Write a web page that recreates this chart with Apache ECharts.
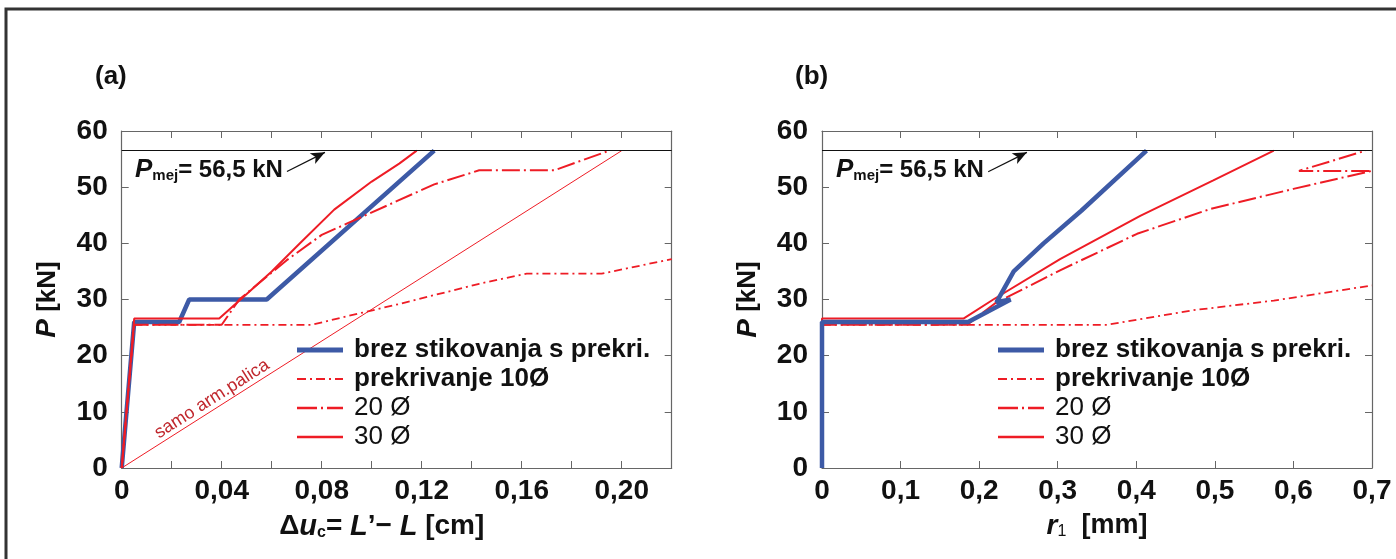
<!DOCTYPE html>
<html><head><meta charset="utf-8">
<script src="https://cdn.jsdelivr.net/npm/echarts@6/dist/echarts.min.js"></script>
<style>html,body{margin:0;padding:0;background:#fff}#c{width:1396px;height:559px}</style>
</head><body><div id="c"></div>
<script>
// ---- data (a): P [kN] vs delta u_c [cm]
const namesLegend = ['brez stikovanja s prekri.', 'prekrivanje 10Ø', '20 Ø', '30 Ø'];
const aBrez = [[0,0],[0.005,26],[0.023,26],[0.027,30],[0.058,30],[0.125,56.5]];
const a10 = [[0,0],[0.005,25.5],[0.076,25.5],[0.09,27],[0.111,29.2],[0.143,32.8],[0.162,34.6],[0.192,34.6],[0.22,37.2]];
const a20 = [[0,0],[0.005,25.5],[0.04,25.5],[0.047,30],[0.066,37],[0.08,41.5],[0.09,43.5],[0.11,47.5],[0.125,50.5],[0.143,53],[0.173,53],[0.195,56.5]];
const a30 = [[0,0],[0.005,26.6],[0.039,26.6],[0.05,31],[0.06,35],[0.0713,40],[0.085,46],[0.1,51],[0.111,54.2],[0.118,56.5]];
const aSamo = [[0,0],[0.2,56.5]];
// ---- data (b): P [kN] vs r1 [mm]
const bBrez = [[0,0],[0,26],[0.186,26],[0.24,30],[0.222,29.5],[0.244,35],[0.282,40],[0.33,45.8],[0.413,56.5]];
const b10 = [[0,0],[0,25.5],[0.363,25.5],[0.473,28.1],[0.575,29.8],[0.7,32.5]];
const b20 = [[0,0],[0,25.5],[0.185,25.5],[0.22,29.3],[0.303,35.2],[0.401,41.7],[0.494,46.1],[0.6,49.7],[0.7,52.9],[0.607,52.9],[0.692,56.5]];
const b30 = [[0,0],[0,26.6],[0.18,26.6],[0.218,30],[0.303,37.2],[0.405,44.9],[0.498,51.2],[0.575,56.5]];
const Pmej = 56.5;
const arrowA = [[0.0661,52.8],[0.0813,56.2]];
const arrowB = [[0.2115,52.75],[0.2608,56.2]];
const xDecimalsA = 2, xDecimalsB = 1;

const BLUE = '#3d5aa6', RED = '#ee1c25', FRAME = '#666';
const FONT = '"Liberation Sans", Arial, sans-serif';
const fmt = (v, d) => v === 0 ? '0' : v.toFixed(d).replace('.', ',');

const chart = echarts.init(document.getElementById('c'), null, {renderer: 'canvas'});

function xAx(gi, max, interval, labelStep, dec, nameRich, namePad) {
  return [{
    type: 'value', gridIndex: gi, min: 0, max: max, interval: interval,
    axisLine: {onZero: false, lineStyle: {color: FRAME, width: 1.2}},
    axisTick: {inside: true, length: 7, lineStyle: {color: FRAME}},
    splitLine: {show: false},
    axisLabel: {margin: 9, fontSize: 28, fontWeight: 'bold', fontFamily: FONT, color: '#111',
      formatter: v => { const k = v / labelStep; return Math.abs(k - Math.round(k)) < 1e-6 ? fmt(v, dec) : ''; }},
    name: nameRich.text, nameLocation: 'middle', nameGap: 44,
    nameTextStyle: {fontFamily: FONT, fontSize: 27, color: '#111', rich: nameRich.rich, padding: namePad}
  }, {
    type: 'value', gridIndex: gi, position: 'top', min: 0, max: max, interval: interval,
    axisLine: {onZero: false, lineStyle: {color: FRAME, width: 1.2}},
    axisTick: {inside: true, length: 7, lineStyle: {color: FRAME}},
    axisLabel: {show: false}, splitLine: {show: false}
  }];
}
function yAx(gi) {
  return [{
    type: 'value', gridIndex: gi, min: 0, max: 60, interval: 10,
    axisLine: {show: true, onZero: false, lineStyle: {color: FRAME, width: 1.2}},
    axisTick: {show: true, inside: true, length: 7, lineStyle: {color: FRAME}},
    splitLine: {show: false},
    axisLabel: {margin: 14, fontSize: 28, fontWeight: 'bold', fontFamily: FONT, color: '#111'},
    name: '{i|P}{b| [kN]}', nameLocation: 'middle', nameGap: 60, nameRotate: 90,
    nameTextStyle: {fontFamily: FONT, fontSize: 26, color: '#111',
      rich: {i: {fontStyle: 'italic', fontWeight: 'bold', fontSize: 28, fontFamily: FONT, color: '#111'},
             b: {fontWeight: 'bold', fontSize: 26, fontFamily: FONT, color: '#111'}}}
  }, {
    type: 'value', gridIndex: gi, position: 'right', min: 0, max: 60, interval: 10,
    axisLine: {show: true, onZero: false, lineStyle: {color: FRAME, width: 1.2}},
    axisTick: {show: true, inside: true, length: 7, lineStyle: {color: FRAME}},
    axisLabel: {show: false}, splitLine: {show: false}
  }];
}

const richA = {
  text: '{d|Δ}{i|u}{s|c}{n|= }{i|L}{n|’− }{i|L}{n| [cm]}',
  rich: {
    d: {fontSize: 28, fontWeight: 'bold', fontFamily: FONT, color: '#111'},
    i: {fontSize: 29, fontStyle: 'italic', fontWeight: 'bold', fontFamily: FONT, color: '#111'},
    s: {fontSize: 16, fontWeight: 'bold', fontFamily: FONT, color: '#111', verticalAlign: 'bottom', padding: [8, 0, 0, 0]},
    n: {fontSize: 28, fontWeight: 'bold', fontFamily: FONT, color: '#111'}
  }
};
const richB = {
  text: '{i|r}{s|1}{b|  [mm]}',
  rich: {
    i: {fontSize: 28, fontStyle: 'italic', fontWeight: 'bold', fontFamily: FONT, color: '#111'},
    s: {fontSize: 16, fontFamily: FONT, color: '#111', verticalAlign: 'bottom', padding: [8, 0, 0, 0]},
    b: {fontSize: 27, fontWeight: 'bold', fontFamily: FONT, color: '#111'}
  }
};

function line(name, data, xi, yi, color, width, type, z) {
  return {name: name, type: 'line', data: data, xAxisIndex: xi, yAxisIndex: yi,
    showSymbol: false, symbol: 'none', animation: false, z: z || 2,
    lineStyle: {color: color, width: width, type: type}, itemStyle: {color: color}};
}
function pmej(xi, yi, arrow) {
  return {type: 'line', data: [], xAxisIndex: xi, yAxisIndex: yi, animation: false, silent: true,
    markLine: {silent: true, animation: false, label: {show: false},
      data: [
        [{yAxis: Pmej, x: xi === 0 ? 121.7 : 822, symbol: 'none'}, {yAxis: Pmej, x: xi === 0 ? 671.7 : 1372, symbol: 'none'}],
        [{coord: arrow[0], symbol: 'none'}, {coord: arrow[1], symbol: 'arrow', symbolSize: [9, 14]}]
      ],
      lineStyle: {color: '#111', width: 1.2, type: 'solid'}}};
}

const legendIcons = [
  'path://M0,0H46V5H0Z',
  'path://M0,0H9V2H0Z M13,0H15V2H13Z M19,0H28V2H19Z M32,0H34V2H32Z M38,0H46V2H38Z',
  'path://M0,0H20V2.5H0Z M24,0H26V2.5H24Z M30,0H46V2.5H30Z',
  'path://M0,0H46V2.5H0Z'
];
const legendCommon = {
  orient: 'vertical', top: 332, itemWidth: 46, itemHeight: 5, itemGap: 3, symbolKeepAspect: true,
  data: namesLegend.map((n, i) => ({name: n, icon: legendIcons[i]})), selectedMode: false,
  textStyle: {fontFamily: FONT, fontSize: 26, color: '#111', padding: [0, 0, 0, 6], lineHeight: 24,
    rich: {bb: {fontFamily: FONT, fontSize: 26, fontWeight: 'bold', color: '#111', lineHeight: 24},
           nn: {fontFamily: FONT, fontSize: 26, color: '#111', lineHeight: 24}}},
  formatter: n => (n === '20 Ø' || n === '30 Ø') ? '{nn|' + n + '}' : '{bb|' + n + '}'
};

const option = {
  backgroundColor: '#fff',
  animation: false,
  grid: [
    {left: 121.7, right: 1396 - 671.7, top: 131, bottom: 559 - 468},
    {left: 822, right: 1396 - 1372, top: 131, bottom: 559 - 468}
  ],
  xAxis: [...xAx(0, 0.22, 0.02, 0.04, xDecimalsA, richA, [0, 30, 0, 0]), ...xAx(1, 0.7, 0.1, 0.1, xDecimalsB, richB, [0, 0, 0, 0])],
  yAxis: [...yAx(0), ...yAx(1)],
  legend: [Object.assign({left: 292}, legendCommon), Object.assign({left: 993}, legendCommon)],
  series: [
    line('brez stikovanja s prekri.', aBrez, 0, 0, BLUE, 4.5, 'solid', 2),
    line('prekrivanje 10Ø', a10, 0, 0, RED, 1.8, [8, 4, 2, 4], 3),
    line('20 Ø', a20, 0, 0, RED, 2, [18, 4, 2, 4], 3),
    line('30 Ø', a30, 0, 0, RED, 2, 'solid', 3),
    line('samo arm.palica', aSamo, 0, 0, RED, 1, 'solid', 3),
    pmej(0, 0, arrowA),
    line('prekrivanje 10Ø', b10, 2, 2, RED, 1.8, [8, 4, 2, 4], 3),
    line('20 Ø', b20, 2, 2, RED, 2, [18, 4, 2, 4], 3),
    line('30 Ø', b30, 2, 2, RED, 2, 'solid', 3),
    line('brez stikovanja s prekri.', bBrez, 2, 2, BLUE, 4.5, 'solid', 4),
    pmej(2, 2, arrowB)
  ],
  graphic: [
    {type: 'rect', shape: {x: 6, y: 9, width: 1450, height: 600}, style: {fill: 'none', stroke: '#333', lineWidth: 3}, silent: true},
    {type: 'text', left: 95, top: 64, style: {text: '(a)', font: 'bold 26px ' + FONT, fill: '#111'}},
    {type: 'text', left: 795, top: 64, style: {text: '(b)', font: 'bold 26px ' + FONT, fill: '#111'}},
    {type: 'text', x: 135, y: 170, style: {
      text: '{p|P}{m|mej}{t|= 56,5 kN}', verticalAlign: 'middle',
      rich: {p: {font: 'italic bold 26px ' + FONT, fill: '#111'},
             m: {font: 'bold 15px ' + FONT, fill: '#111', verticalAlign: 'bottom', padding: [9, 0, 0, 0]},
             t: {font: 'bold 24px ' + FONT, fill: '#111'}}}},
    {type: 'text', x: 836, y: 170, style: {
      text: '{p|P}{m|mej}{t|= 56,5 kN}', verticalAlign: 'middle',
      rich: {p: {font: 'italic bold 26px ' + FONT, fill: '#111'},
             m: {font: 'bold 15px ' + FONT, fill: '#111', verticalAlign: 'bottom', padding: [9, 0, 0, 0]},
             t: {font: 'bold 24px ' + FONT, fill: '#111'}}}},
    {type: 'text', x: 212, y: 399, rotation: 32.5 * Math.PI / 180, originX: 0, originY: 0,
      style: {text: 'samo arm.palica', font: '18px ' + FONT, fill: '#c0272d', align: 'center', verticalAlign: 'middle'}}
  ]
};
chart.setOption(option);
</script></body></html>
